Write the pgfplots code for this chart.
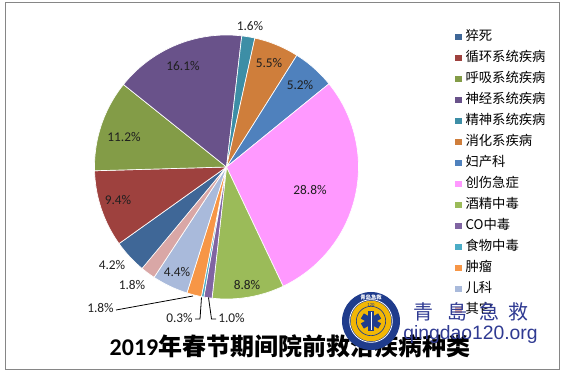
\documentclass[border=0pt]{standalone}
\usepackage{pgfplots}
\pgfplotsset{compat=1.18}
\usepackage{pgfplotstable}
\usepackage{fontspec}
\setmainfont{Carlito}
\newfontfamily\cjk{Noto Sans CJK SC}
\newfontfamily\arial{Liberation Sans}

\definecolor{c1}{HTML}{3F6797}
\definecolor{c2}{HTML}{9E413E}
\definecolor{c3}{HTML}{839C47}
\definecolor{c4}{HTML}{69528A}
\definecolor{c5}{HTML}{3D8EA6}
\definecolor{c6}{HTML}{CF7E3B}
\definecolor{c7}{HTML}{4F81BD}
\definecolor{c8}{HTML}{FF99FF}
\definecolor{c9}{HTML}{9BBB59}
\definecolor{c10}{HTML}{8064A2}
\definecolor{c11}{HTML}{4BACC6}
\definecolor{c12}{HTML}{F79646}
\definecolor{c13}{HTML}{A9BADB}
\definecolor{c14}{HTML}{D9A7A6}
\definecolor{navy}{HTML}{1F3C8C}
\definecolor{logoblue}{HTML}{2F3A92}
\definecolor{gold}{HTML}{F2B705}

\pgfplotstableread[col sep=comma]{
name,pct,color
猝死,4.2,c1
循环系统疾病,9.4,c2
呼吸系统疾病,11.2,c3
神经系统疾病,16.1,c4
精神系统疾病,1.6,c5
消化系疾病,5.5,c6
妇产科,5.2,c7
创伤急症,28.8,c8
酒精中毒,8.8,c9
CO中毒,1.0,c10
食物中毒,0.3,c11
肿瘤,1.8,c12
儿科,4.4,c13
其它,1.8,c14
}\piedata

\def\cumang{-129.4}

\begin{document}
\begin{tikzpicture}
\begin{axis}[
  at={(0,0)}, anchor=south west,
  scale only axis, width=422.25pt, height=280.5pt,
  xmin=0, xmax=563, ymin=0, ymax=374,
  hide axis, clip=false,
  legend image code/.code={\path[#1, draw=none] (0pt,-2.45pt) rectangle (4.9pt,2.45pt);},
  legend style={at={(axis cs:455,345)}, anchor=north west, draw=none, fill=none,
    inner sep=0pt, row sep=4.15pt,
    nodes={inner sep=0.8pt, text height=7.5pt, text depth=2.5pt, font=\cjk\fontsize{10}{10}\selectfont},
    /tikz/every odd column/.append style={column sep=2pt}},
  legend cell align=left,
]
\path (axis cs:0,0) rectangle (axis cs:563,374);
\pgfplotsforeachungrouped \i in {0,...,13}{%
  \pgfplotstablegetelem{\i}{pct}\of\piedata \let\p\pgfplotsretval
  \pgfplotstablegetelem{\i}{color}\of\piedata \let\c\pgfplotsretval
  \pgfplotstablegetelem{\i}{name}\of\piedata \let\nm\pgfplotsretval
  \pgfmathsetmacro{\angA}{\cumang}%
  \pgfmathsetmacro{\angB}{\cumang-3.6*\p}%
  \edef\temp{\noexpand\addplot[fill=\c, draw=white, line width=0.5pt, domain=\angB:\angA, samples=40]
     ({226.5+132*cos(x)},{207+132*sin(x)}) -- (axis cs:226.5,207) -- cycle;
     \noexpand\addlegendentry{\nm}}%
  \temp
  \global\let\cumang\angB
}
\end{axis}
\begin{scope}[yshift=280.5pt, x=0.75pt, y=-0.75pt]
  % frame
  \draw[color={rgb,255:red,134;green,134;blue,134}, line width=0.75pt] (5,3) rectangle (559,370);
  % data labels
  \begin{scope}[every node/.style={font=\fontsize{10}{12}\selectfont, inner sep=0pt, text=black!88}]
    \node at (250,26) {1.6\%};
    \node at (269,63) {5.5\%};
    \node at (300,85) {5.2\%};
    \node at (183,66) {16.1\%};
    \node at (124,137) {11.2\%};
    \node at (118,200) {9.4\%};
    \node at (310,190) {28.8\%};
    \node at (247,285) {8.8\%};
    \node at (177,272) {4.4\%};
    \node at (112,265) {4.2\%};
    \node at (132,285) {1.8\%};
    \node[anchor=east] at (114,308) {1.8\%};
    \node[anchor=east] at (193,318) {0.3\%};
    \node[anchor=west] at (218,318) {1.0\%};
  \end{scope}
  \draw[black, line width=0.6pt] (116,310) -- (193,296);
  \draw[black, line width=0.6pt] (195,319) -- (200,319) -- (201.5,297.5);
  \draw[black, line width=0.6pt] (208.5,297.5) -- (211.5,319) -- (216,319);
  % title
  \node at (290,346) {\fontsize{18}{18}\selectfont\bfseries 2019\cjk 年春节期间院前救治疾病种类};
  % logo
  \fill[navy] (371,321) circle[radius=21.75pt];
  \draw[white, line width=0.6pt] (371,321) circle[radius=16pt];
  \fill[gold] (371,321) circle[radius=15.2pt];
  \draw[navy, line width=0.5pt] (371,321) circle[radius=11pt];
  \foreach \a in {0,60,120}{
    \fill[navy, rotate around={\a:(371,321)}] (368,311) rectangle (374,331);
  }
  \draw[white, line width=0.6pt] (371,312) -- (371,330);
  \node[white, font=\cjk\fontsize{4}{4}\selectfont\bfseries] at (371,297) {青岛急救};
  \node[navy, font=\fontsize{3.5}{4}\selectfont] at (371,305.5) {120};
  \begin{scope}[every node/.style={text=logoblue, font=\cjk\fontsize{15}{16}\selectfont, inner sep=0pt}]
    \node at (423.5,311.5) {青};
    \node at (457.5,311.5) {島};
    \node at (489,311.5) {急};
    \node at (518,311.5) {救};
  \end{scope}
  \node[anchor=base west, inner sep=0pt, text=logoblue, font=\arial\fontsize{14.5}{15}\selectfont] at (403,340) {qingdao120.org};
\end{scope}
\end{tikzpicture}
\end{document}
